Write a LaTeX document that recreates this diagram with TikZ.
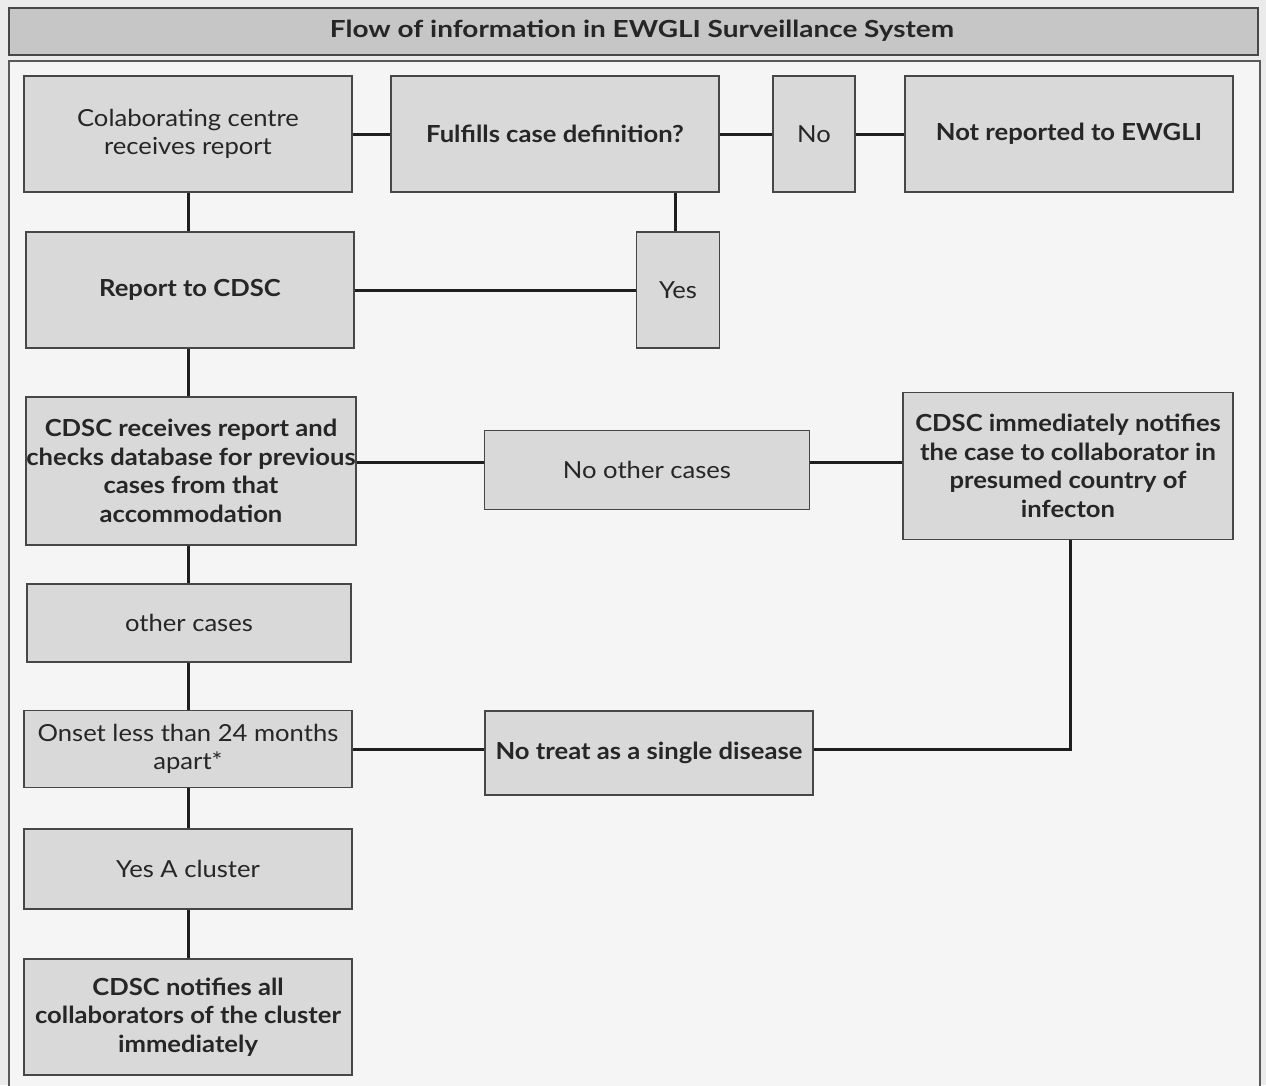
\documentclass[tikz,border=0pt]{standalone}
\usepackage{fontspec}
\setmainfont{Lato}[FakeStretch=1.09]
\newfontfamily\headfont{Lato}[FakeStretch=1.19]
\definecolor{pagebg}{HTML}{EBEBEB}
\definecolor{panelbg}{HTML}{F5F5F5}
\definecolor{headbg}{HTML}{C6C6C6}
\definecolor{boxbg}{HTML}{D9D9D9}
\definecolor{boxline}{HTML}{474747}
\definecolor{linkline}{HTML}{1E1E1E}
\begin{document}
\begin{tikzpicture}[x=1pt,y=-1pt,
        flowbox/.style={draw=boxline,line width=1.4pt,fill=boxbg,inner sep=0pt,
            align=center,font=\fontsize{23.5}{28.5}\selectfont,text=black!85},
        boldbox/.style={flowbox,font=\fontsize{23.5}{28.5}\selectfont\bfseries},
        link/.style={draw=linkline,line width=3pt}]
        \useasboundingbox (0,0) rectangle (1266,1085);
        \fill[pagebg] (0,0) rectangle (1266,1085);
        \draw[fill=panelbg,draw=boxline!90,line width=2pt] (9,61) rectangle (1260,1100);
        \draw[fill=headbg,draw=boxline,line width=2pt] (9,8) rectangle (1258,55);
        \node[font=\headfont\fontsize{23.5}{28.5}\selectfont\bfseries,text=black!85] (title) at (642,31) {Flow of information in EWGLI Surveillance System};

        \node[flowbox,minimum width=328,minimum height=116] (colab) at (188,134) {Colaborating centre\\receives report};
        \node[boldbox,minimum width=328,minimum height=116] (fulfil) at (555,134) {Fulfills case definition?};
        \node[flowbox,minimum width=82,minimum height=116] (no) at (814,134) {No};
        \node[boldbox,minimum width=328,minimum height=116] (notrep) at (1069,134) {Not reported to EWGLI};
        \node[boldbox,minimum width=328,minimum height=116] (report) at (190,290) {Report to CDSC};
        \node[flowbox,minimum width=83,minimum height=116] (yes) at (678,290) {Yes};
        \node[boldbox,minimum width=330,minimum height=148] (recv) at (191,471) {CDSC receives report and\\checks database for previous\\cases from that\\accommodation};
        \node[flowbox,minimum width=325,minimum height=79] (noother) at (647,470) {No other cases};
        \node[boldbox,minimum width=330,minimum height=147] (notify) at (1068,466) {CDSC immediately notifies\\the case to collaborator in\\presumed country of\\infecton};
        \node[flowbox,minimum width=324,minimum height=78] (other) at (189,623) {other cases};
        \node[flowbox,minimum width=328,minimum height=77] (onset) at (188,749) {Onset less than 24 months\\apart*};
        \node[boldbox,minimum width=328,minimum height=84] (notreat) at (649,753) {No treat as a single disease};
        \node[flowbox,minimum width=328,minimum height=80] (cluster) at (188,869) {Yes A cluster};
        \node[boldbox,minimum width=328,minimum height=116] (notifyall) at (188,1017) {CDSC notifies all\\collaborators of the cluster\\immediately};

        \coordinate (rowa) at (0,462);
        \coordinate (rowb) at (0,749);
        \draw[link] (colab.east) -- (fulfil.west);
        \draw[link] (fulfil.east) -- (no.west);
        \draw[link] (no.east) -- (notrep.west);
        \draw[link] (colab.south) -- (colab.south |- report.north);
        \draw[link] ([xshift=-3pt]yes.north) -- ([xshift=-3pt]yes.north |- fulfil.south);
        \draw[link] (report.east) -- (report.east -| yes.west);
        \draw[link] (colab.south |- report.south) -- (colab.south |- recv.north);
        \draw[link] (recv.east |- rowa) -- (noother.west |- rowa);
        \draw[link] (noother.east |- rowa) -- (notify.west |- rowa);
        \draw[link] (colab.south |- recv.south) -- (colab.south |- other.north);
        \draw[link] (colab.south |- other.south) -- (onset.north);
        \draw[link] (onset.east |- rowb) -- (notreat.west |- rowb);
        \draw[link] (notreat.east |- rowb) -| ([xshift=2pt]notify.south);
        \draw[link] (onset.south) -- (cluster.north);
        \draw[link] (cluster.south) -- (notifyall.north);
\end{tikzpicture}
\end{document}
